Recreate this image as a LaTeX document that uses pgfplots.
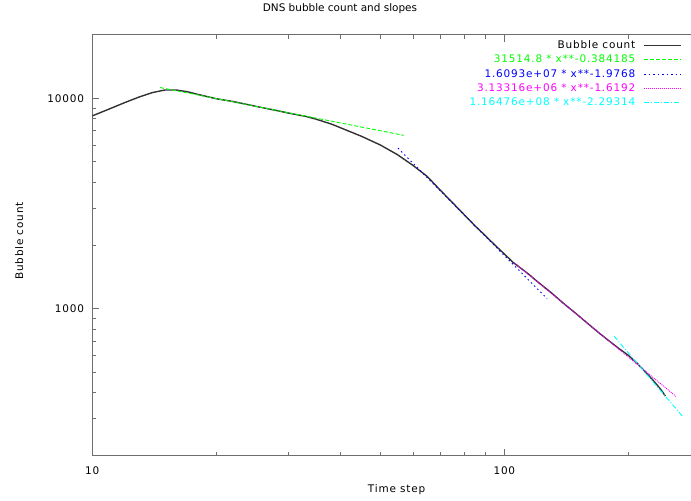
\documentclass[border=0pt]{standalone}
\usepackage{pgfplots}
\pgfplotsset{compat=1.18}
\usepackage{fontspec}
\setmainfont{DejaVu Sans}
\newfontfamily\widefont{DejaVu Sans}[LetterSpace=8]
\definecolor{fgreen}{RGB}{0,255,0}
\definecolor{fblue}{RGB}{0,0,255}
\definecolor{fmag}{RGB}{255,0,255}
\definecolor{fcyan}{RGB}{0,255,255}
\definecolor{axgray}{RGB}{110,110,110}
\begin{document}
\begin{tikzpicture}
\begin{axis}[
  name=ax,
  scale only axis,
  width=608.6bp, height=420.7bp,
  xmode=log, ymode=log,
  xmin=10, xmax=300, ymin=200, ymax=20000,
  font=\widefont\fontsize{10.5}{13}\selectfont,
  /pgf/number format/assume math mode=true,
  axis line style={axgray, line width=1bp},
  every tick/.style={axgray, line width=0.8bp},
  major tick length=7bp, minor tick length=4bp,
  xtick={10,100}, xticklabels={10,100},
  minor xtick={20,30,40,50,60,70,80,90,200,300},
  ytick={1000,10000}, yticklabels={1000,10000},
  minor ytick={300,400,500,600,700,800,900,2000,3000,4000,5000,6000,7000,8000,9000},
  xticklabel style={inner sep=0pt, anchor=center, yshift=-15bp},
  yticklabel style={inner sep=0pt, anchor=east, xshift=-8bp},
  title={DNS bubble count and slopes},
  title style={font=\normalfont\fontsize{10.5}{13}\selectfont, at={(axis description cs:0.407,1)}, anchor=center, yshift=20bp, inner sep=0pt},
  xlabel={Time step},
  xlabel style={at={([yshift=-34bp]axis description cs:0.5,0)}, anchor=center, inner sep=0pt},
  ylabel={Bubble count},
  ylabel style={at={([xshift=-73bp]axis description cs:0,0.51)}, anchor=center, inner sep=0pt},
  legend style={draw=none, fill=none, at={(axis description cs:1,1)}, anchor=north east,
    xshift=-19bp, yshift=-5.6bp, inner sep=0pt, row sep=4.15bp, column sep=8bp,
    nodes={inner sep=0pt, text height=8bp, text depth=2bp}},
  legend cell align=right,
  legend plot pos=right,
  legend image code/.code={\draw[#1] (0bp,0bp) -- (37bp,0bp);},
]
\addplot[black!80, line width=1.4bp] coordinates {
(10,8250) (11,8900) (12,9550) (13,10150) (14,10650) (15,10950) (16,10950)
(17,10750) (18,10450) (20,9950) (22,9650) (25,9150) (28,8750) (30,8500)
(33,8200) (35,7950) (38,7550) (40,7250) (45,6600) (50,6000) (55,5400)
(60,4800) (65,4250) (70,3650) (75,3180) (80,2790) (85,2470) (90,2220)
(95,2000) (100,1820) (105,1660) (110,1550) (115,1450) (120,1350) (130,1190)
(140,1050) (150,940) (160,845) (170,765) (180,700) (190,645) (200,600)
(210,550) (220,500) (230,455) (240,412) (246,384)
};
\addlegendentry{Bubble count}
\addplot[fgreen, line width=0.9bp, dash pattern=on 4bp off 2bp] coordinates {(14.6,11251) (57,6668)};
\addlegendentry{\textcolor{fgreen}{31514.8 * x**-0.384185}}
\addplot[fblue, line width=0.9bp, dash pattern=on 1.5bp off 3bp] coordinates {(55.2,5798) (126.9,1117)};
\addlegendentry{\textcolor{fblue}{1.6093e+07 * x**-1.9768}}
\addplot[fmag, line width=0.9bp, dash pattern=on 1bp off 1bp] coordinates {(106.2,1641) (261,382.7)};
\addlegendentry{\textcolor{fmag}{3.13316e+06 * x**-1.6192}}
\addplot[fcyan, line width=0.9bp, dash pattern=on 5bp off 2bp on 1bp off 2bp] coordinates {(184.6,740.3) (271.5,305.6)};
\addlegendentry{\textcolor{fcyan}{1.16476e+08 * x**-2.29314}}
\end{axis}
\pgfresetboundingbox
\path[use as bounding box] ([xshift=-92.3bp,yshift=-45.3bp]ax.south west) rectangle ([xshift=598.7bp,yshift=35bp]ax.north west);
\end{tikzpicture}
\end{document}
